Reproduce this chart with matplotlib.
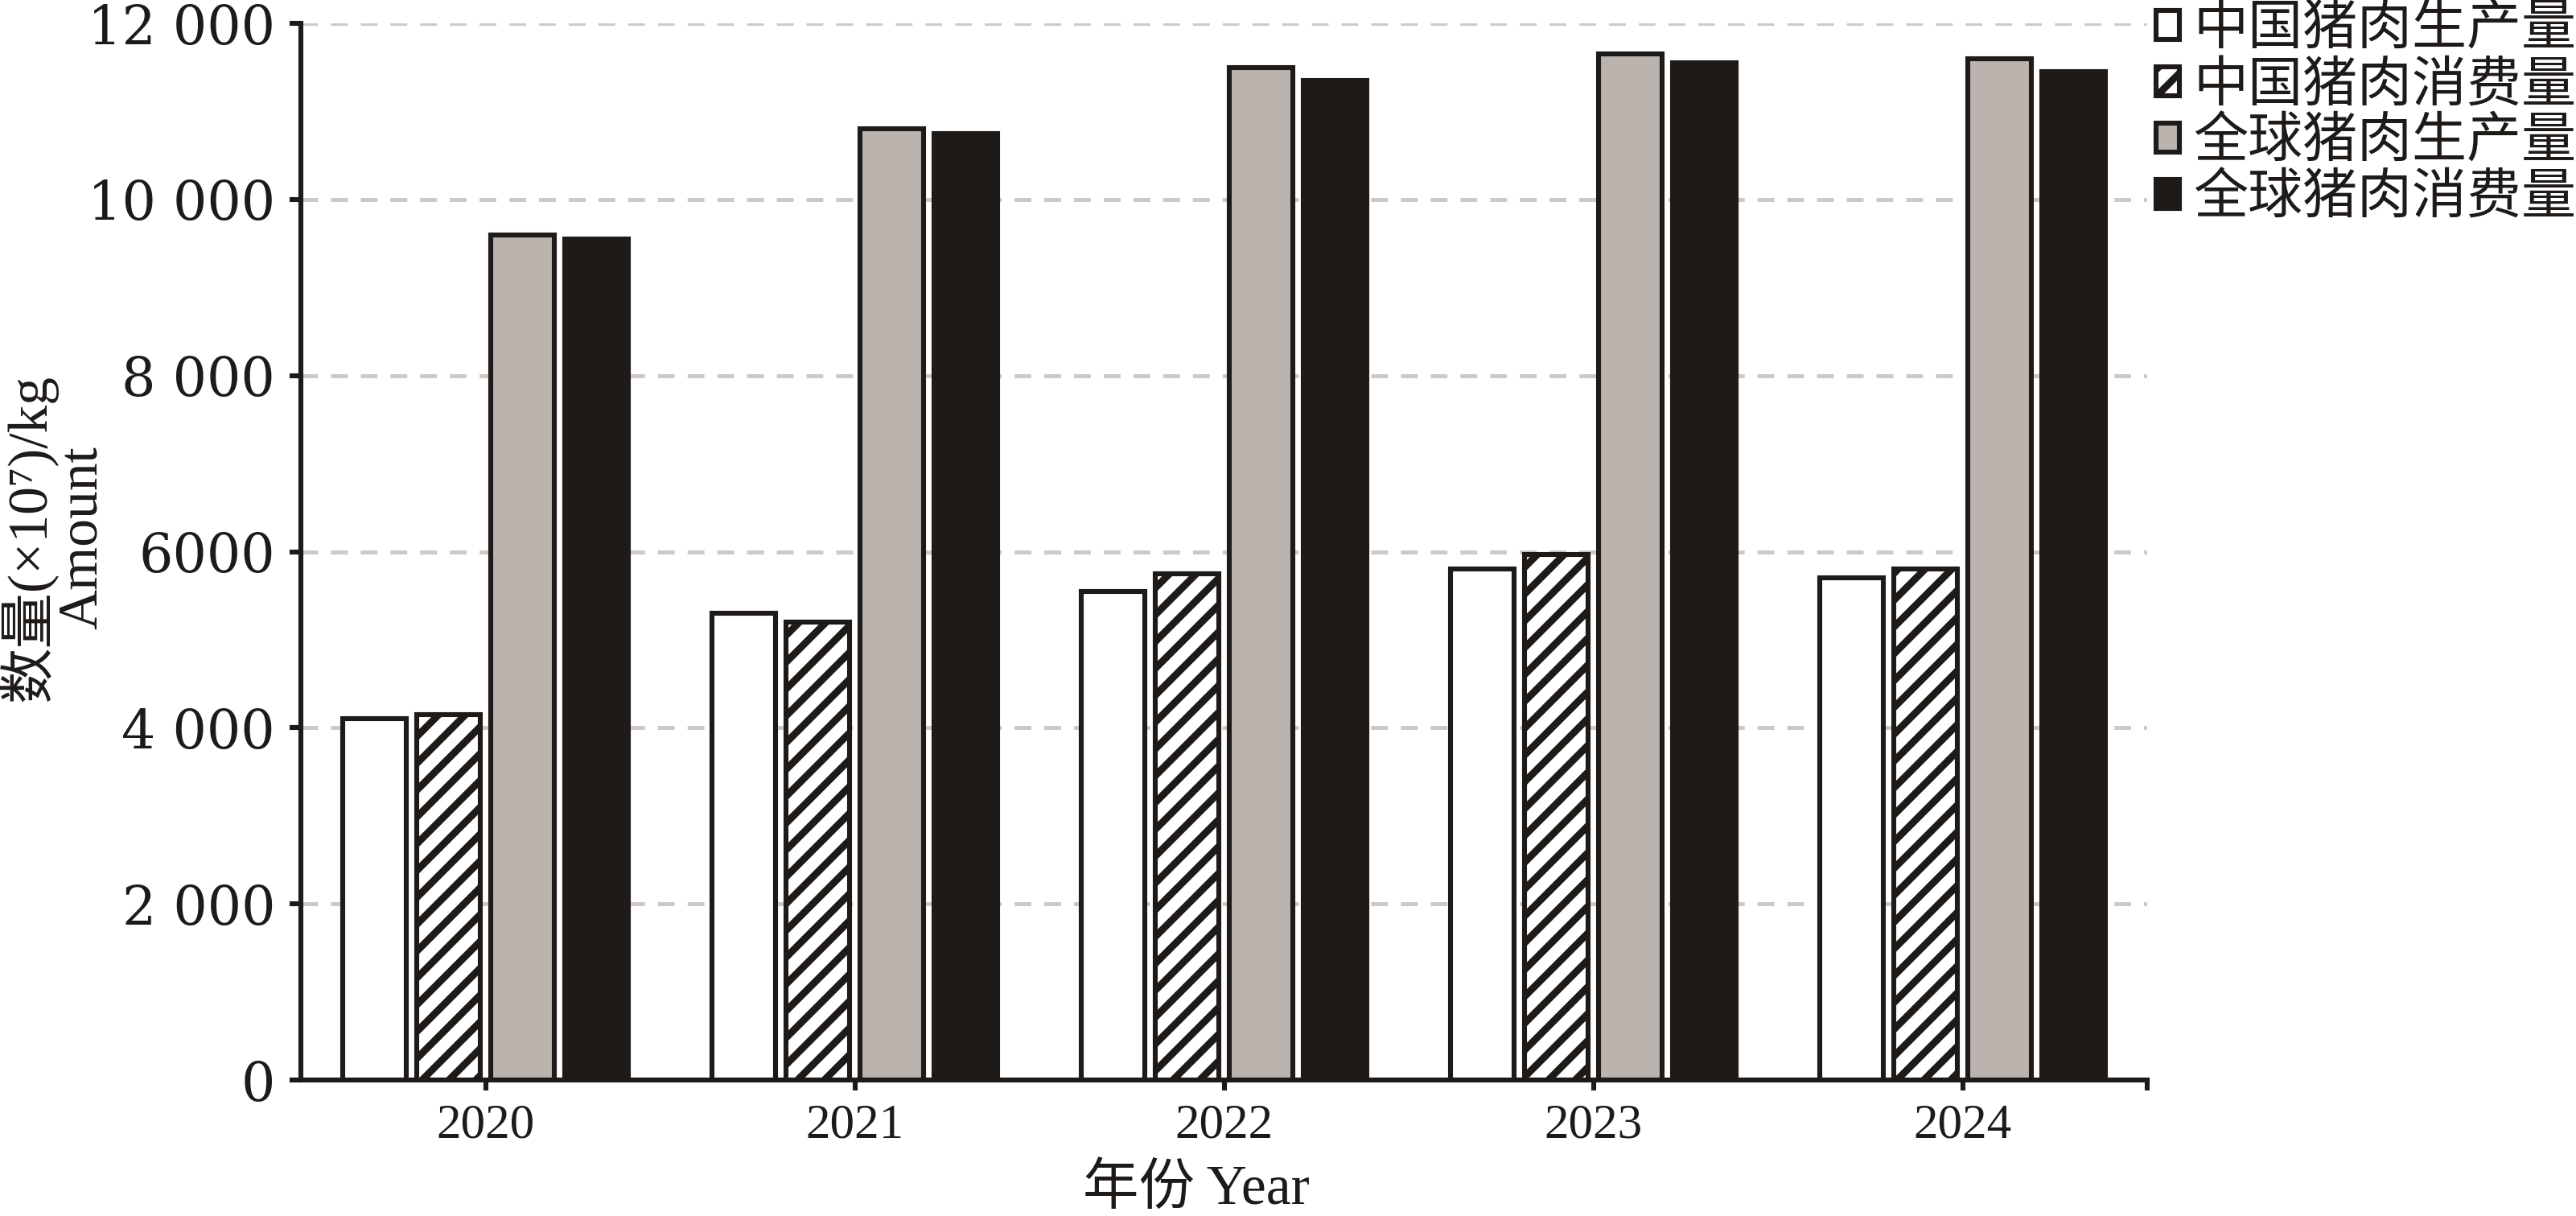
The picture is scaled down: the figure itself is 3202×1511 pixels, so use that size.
import matplotlib
matplotlib.use("Agg")
import matplotlib.pyplot as plt
import numpy as np

plt.rcParams['hatch.linewidth'] = 3.2
plt.rcParams['lines.scale_dashes'] = False

years = ["2020", "2021", "2022", "2023", "2024"]
series_names = ["中国猪肉生产量", "中国猪肉消费量", "全球猪肉生产量", "全球猪肉消费量"]
china_production = [4100, 5300, 5550, 5800, 5700]
china_consumption = [4150, 5200, 5750, 5970, 5800]
world_production = [9600, 10800, 11500, 11650, 11600]
world_consumption = [9550, 10750, 11350, 11550, 11450]
y_ticks = [0, 2000, 4000, 6000, 8000, 10000, 12000]
y_tick_labels = ["0", "2 000", "4 000", "6000", "8 000", "10 000", "12 000"]

INK = "#1e1a18"
GRAY = "#bab3ae"
GRID = "#cdc9c7"

fig = plt.figure(figsize=(16.01, 7.555), dpi=200)
ax = fig.add_axes([0.1168, 0.1118, 0.8336 - 0.1168, 0.9808 - 0.1118])

x = np.arange(len(years))
offsets = [-0.3, -0.1, 0.1, 0.3]
width = 0.172
data = [china_production, china_consumption, world_production, world_consumption]
styles = [
    dict(facecolor="white", hatch=None),
    dict(facecolor="white", hatch="//"),
    dict(facecolor=GRAY, hatch=None),
    dict(facecolor=INK, hatch=None),
]
for vals, off, st, name in zip(data, offsets, styles, series_names):
    ax.bar(x + off, vals, width, facecolor=st["facecolor"], hatch=st["hatch"],
           edgecolor=INK, linewidth=2.2, label=name, zorder=3)

ax.set_xlim(-0.5, 4.5)
ax.set_ylim(0, 12000)
ax.set_yticks(y_ticks)
ax.set_yticklabels(y_tick_labels, fontfamily="DejaVu Serif", fontsize=24, color=INK)
ax.set_xticks(x)
ax.set_xticklabels(years, fontfamily="Liberation Serif", fontsize=22, color=INK)
ax.set_xticks([4.5], minor=True)

ax.yaxis.grid(True, color=GRID, linewidth=1.8, linestyle=(0, (7.5, 5.8)), zorder=0)
ax.set_axisbelow(True)

for s in ["top", "right"]:
    ax.spines[s].set_visible(False)
for s in ["left", "bottom"]:
    ax.spines[s].set_linewidth(2.2)
    ax.spines[s].set_color(INK)

ax.tick_params(axis="y", direction="out", length=5, width=2.2, pad=6.5, color=INK)
ax.tick_params(axis="x", which="both", direction="out", length=4.5, width=2.2, pad=6, color=INK)

ax.set_xlabel("年份 Year", fontsize=25, family=["Liberation Serif", "Noto Sans CJK SC"], color=INK)
ax.xaxis.set_label_coords(0.485, -0.079)

ax.set_ylabel("数量(×10⁷)/kg\nAmount", fontsize=25,
              family=["Liberation Serif", "Noto Sans CJK SC", "DejaVu Serif"],
              color=INK, linespacing=1.0)
ax.yaxis.set_label_coords(-0.104, 0.513)

leg = fig.legend(loc="upper left", bbox_to_anchor=(0.837, 0.999), frameon=False,
                 prop=dict(family=["Noto Sans CJK SC"], size=24.5),
                 handlelength=0.43, handleheight=0.43, handletextpad=0.25,
                 labelspacing=0.0, borderpad=0, borderaxespad=0)
for t in leg.get_texts():
    t.set_color(INK)

fig.savefig("out.png", dpi=200)
